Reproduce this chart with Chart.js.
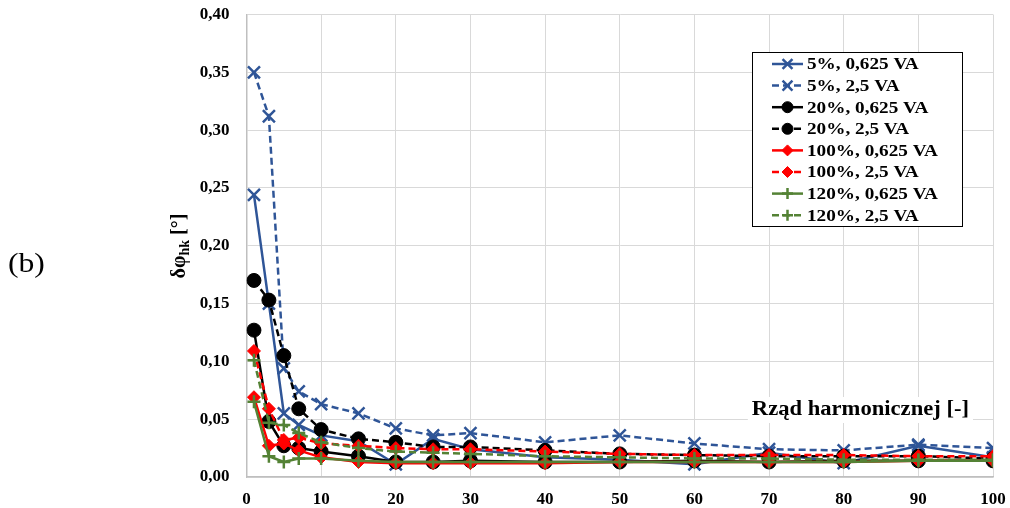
<!DOCTYPE html>
<html><head><meta charset="utf-8">
<script src="https://cdn.jsdelivr.net/npm/chart.js@4"></script>
<style>html,body{margin:0;padding:0;background:#fff}</style>
</head><body>
<canvas id="c" width="1010" height="508" style="width:1010px;height:508px;display:block"></canvas>
<script>
const harmonics = [1,3,5,7,10,15,20,25,30,40,50,60,70,80,90,100];
const s5_0625  = [0.244,0.150,0.055,0.045,0.036,0.031,0.011,0.033,0.024,0.017,0.015,0.011,0.021,0.012,0.027,0.017];
const s5_25    = [0.350,0.312,0.094,0.074,0.063,0.055,0.042,0.036,0.038,0.030,0.036,0.029,0.024,0.023,0.028,0.025];
const s20_0625 = [0.127,0.048,0.027,0.025,0.022,0.018,0.013,0.013,0.014,0.013,0.013,0.014,0.013,0.014,0.014,0.014];
const s20_25   = [0.170,0.153,0.105,0.059,0.041,0.033,0.030,0.026,0.026,0.023,0.020,0.019,0.018,0.018,0.018,0.016];
const s100_0625= [0.069,0.027,0.029,0.023,0.017,0.013,0.012,0.012,0.012,0.012,0.013,0.013,0.013,0.013,0.014,0.014];
const s100_25  = [0.109,0.059,0.032,0.034,0.029,0.027,0.025,0.024,0.024,0.022,0.020,0.019,0.019,0.019,0.018,0.018];
const s120_0625= [0.065,0.018,0.013,0.016,0.016,0.014,0.013,0.013,0.013,0.013,0.013,0.013,0.013,0.013,0.014,0.014];
const s120_25  = [0.101,0.047,0.045,0.038,0.030,0.025,0.022,0.021,0.020,0.018,0.017,0.016,0.016,0.015,0.015,0.015];
const seriesLabels = ['5%, 0,625 VA','5%, 2,5 VA','20%, 0,625 VA','20%, 2,5 VA','100%, 0,625 VA','100%, 2,5 VA','120%, 0,625 VA','120%, 2,5 VA'];
const xTitle = 'Rząd harmonicznej [-]';
const panelLabel = '(b)';

const BLUE='#2F5597', BLACK='#000000', RED='#FF0000', GREEN='#548235';
const DASH=[7,4];
const FONT='"Liberation Serif","Times New Roman",serif';
const STRETCH = 1.13;

function ds(label, vals, color, style, radius, dashed, idx){
  return {
    label, data: harmonics.map((x,i)=>({x, y: vals[i]})),
    borderColor: color, backgroundColor: color,
    borderWidth: 2.5, borderDash: dashed ? DASH : [],
    pointStyle: style, pointRadius: radius, pointHoverRadius: radius,
    pointBorderWidth: (style==='cross'||style==='crossRot') ? 2.5 : 1,
    pointBorderColor: color, pointBackgroundColor: color,
    tension: 0, fill: false, order: 8 - idx
  };
}
const datasets = [
  ds(seriesLabels[0], s5_0625, BLUE, 'crossRot', 8.5, false, 0),
  ds(seriesLabels[1], s5_25, BLUE, 'crossRot', 8.5, true, 1),
  ds(seriesLabels[2], s20_0625, BLACK, 'circle', 7, false, 2),
  ds(seriesLabels[3], s20_25, BLACK, 'circle', 7, true, 3),
  ds(seriesLabels[4], s100_0625, RED, 'rectRot', 6.5, false, 4),
  ds(seriesLabels[5], s100_25, RED, 'rectRot', 6.5, true, 5),
  ds(seriesLabels[6], s120_0625, GREEN, 'cross', 6.5, false, 6),
  ds(seriesLabels[7], s120_25, GREEN, 'cross', 6.5, true, 7)
];

function stretchText(ctx, text, x, y){
  ctx.save(); ctx.translate(x, y); ctx.scale(STRETCH, 1); ctx.fillText(text, 0, 0); ctx.restore();
}

const overlay = {
  id: 'overlay',
  afterDraw(chart){
    const ctx = chart.ctx;
    ctx.save();
    ctx.fillStyle = '#000';
    // panel label
    ctx.font = '28px ' + FONT;
    ctx.textAlign = 'left'; ctx.textBaseline = 'middle';
    stretchText(ctx, panelLabel, 8, 265);
    // y-axis title with subscript
    ctx.save();
    ctx.translate(179, 246);
    ctx.rotate(-Math.PI/2);
    const p1 = 'δφ', p2 = 'hk', p3 = ' [°]';
    ctx.font = 'bold 20px ' + FONT; const w1 = ctx.measureText(p1).width; const w3 = ctx.measureText(p3).width;
    ctx.font = 'bold 14px ' + FONT; const w2 = ctx.measureText(p2).width;
    let x = -(w1+w2+w3)/2;
    ctx.textBaseline = 'alphabetic'; ctx.textAlign = 'left';
    ctx.font = 'bold 20px ' + FONT; ctx.fillText(p1, x, 6); x += w1;
    ctx.font = 'bold 14px ' + FONT; ctx.fillText(p2, x, 10); x += w2;
    ctx.font = 'bold 20px ' + FONT; ctx.fillText(p3, x, 6);
    ctx.restore();
    // x-axis title inside plot
    ctx.font = 'bold 20px ' + FONT;
    const tw = ctx.measureText(xTitle).width * STRETCH;
    const tx = 969 - tw, ty = 410;
    ctx.fillStyle = '#fff';
    ctx.fillRect(tx - 4, ty - 13, tw + 8, 26);
    ctx.fillStyle = '#000'; ctx.textBaseline = 'middle'; ctx.textAlign = 'left';
    stretchText(ctx, xTitle, tx, ty);
    // legend
    const lx = 752.5, ly = 52.5, lw = 210, lh = 174;
    ctx.fillStyle = '#fff'; ctx.fillRect(lx, ly, lw, lh);
    ctx.strokeStyle = '#000'; ctx.lineWidth = 1;
    ctx.strokeRect(lx, ly, lw, lh);
    chart.data.datasets.forEach((d, i) => {
      const cy = 64 + i * 21.6;
      ctx.save();
      ctx.strokeStyle = d.borderColor; ctx.lineWidth = 2.5;
      ctx.setLineDash(d.borderDash);
      ctx.beginPath(); ctx.moveTo(772, cy); ctx.lineTo(803, cy); ctx.stroke();
      ctx.setLineDash([]);
      ctx.fillStyle = d.pointBackgroundColor; ctx.strokeStyle = d.pointBorderColor;
      ctx.lineWidth = d.pointBorderWidth;
      const r = d.pointStyle==='circle' ? 5.5 : d.pointStyle==='crossRot' ? 7 : 5.5;
      Chart.helpers.drawPoint(ctx, {pointStyle: d.pointStyle, radius: r, rotation: 0, borderWidth: d.pointBorderWidth}, 787.5, cy);
      ctx.restore();
      ctx.fillStyle = '#000'; ctx.font = 'bold 17px ' + FONT;
      ctx.textAlign = 'left'; ctx.textBaseline = 'middle';
      stretchText(ctx, d.label, 807, cy + 1);
    });
    ctx.restore();
  }
};

new Chart(document.getElementById('c'), {
  type: 'line',
  data: { datasets },
  options: {
    responsive: false, animation: false,
    layout: { padding: { top: 14.5, right: 17, left: 0, bottom: 0 } },
    plugins: { legend: { display: false }, tooltip: { enabled: false } },
    scales: {
      x: {
        type: 'linear', min: 0, max: 100,
        afterFit(s){ s.height = 31; s.paddingLeft = 0; s.paddingRight = 0; },
        ticks: { stepSize: 10, color: '#000', padding: 12, font: { family: FONT, size: 17, weight: 'bold' } },
        grid: { color: '#d9d9d9', lineWidth: 1, drawTicks: false },
        border: { color: '#bfbfbf', width: 1.5 }
      },
      y: {
        type: 'linear', min: 0, max: 0.40,
        afterFit(s){ s.width = 246.5; s.paddingTop = 0; s.paddingBottom = 0; },
        ticks: { stepSize: 0.05, color: '#000', padding: 17,
          font: { family: FONT, size: 17, weight: 'bold' },
          callback: v => v.toFixed(2).replace('.', ',') },
        grid: { color: '#d9d9d9', lineWidth: 1, drawTicks: false },
        border: { color: '#bfbfbf', width: 1.5 }
      }
    }
  },
  plugins: [overlay]
});
</script>
</body></html>
